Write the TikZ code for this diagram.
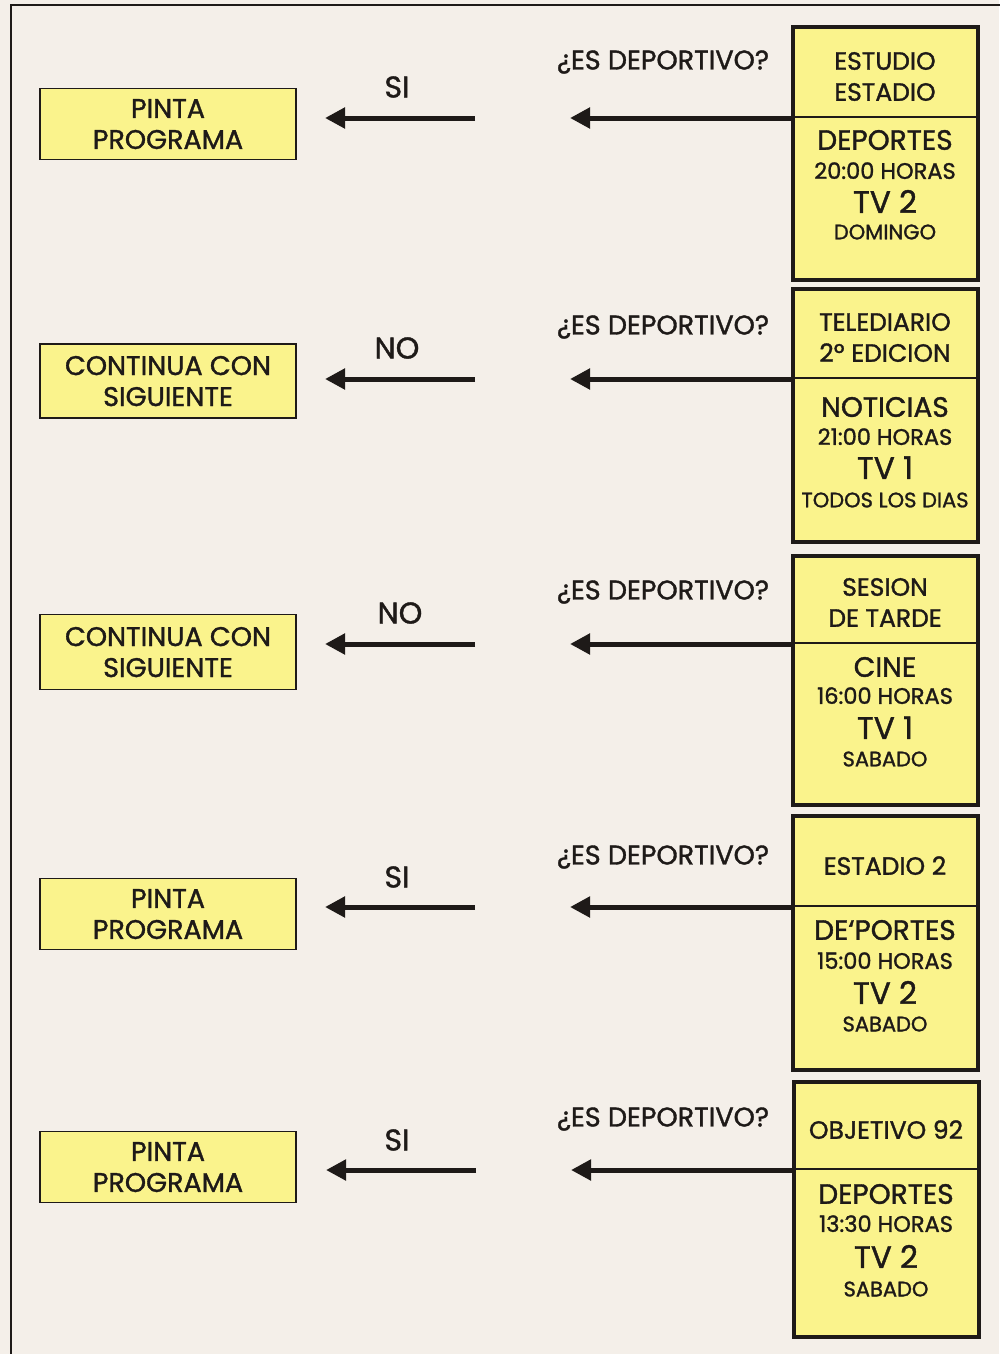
\documentclass[tikz,border=0pt]{standalone}
\usepackage{fontspec}
\setmainfont{Poppins}[FakeBold=1.3]
\usetikzlibrary{arrows.meta}
\definecolor{bgc}{RGB}{244,239,233}
\definecolor{boxy}{RGB}{250,243,140}
\definecolor{ink}{RGB}{30,26,24}
\tikzset{
  lbox/.style={draw=ink, line width=1.5, fill=boxy, minimum width=256, minimum height=71, inner sep=0, align=center, text=ink, font=\fontsize{27}{31}\selectfont, text depth=0pt},
  rpart/.style={fill=boxy, draw=ink, line width=2, minimum width=183, inner sep=0, anchor=north west},
  rframe/.style={draw=ink, line width=4.5},
  txt/.style={inner sep=0, text=ink, text depth=0pt},
  fq/.style={txt, font=\fontsize{27}{30}\selectfont, text height=18.9pt},
  fyn/.style={txt, font=\fontsize{30}{33}\selectfont, text height=21pt},
  ftitle/.style={txt, font=\fontsize{25}{28}\selectfont, text height=17.5pt},
  fgenre/.style={txt, font=\fontsize{28}{31}\selectfont, text height=19.6pt},
  fhour/.style={txt, font=\fontsize{22.5}{25}\selectfont, text height=15.75pt},
  ftv/.style={txt, font=\fontsize{31}{34}\selectfont, text height=21.7pt},
  fday/.style={txt, font=\fontsize{21}{24}\selectfont, text height=14.7pt},
  fsmall/.style={txt, font=\fontsize{21}{24}\selectfont, text height=14.7pt},
  arr/.style={draw=ink, line width=5, -{Triangle[length=20, width=20]}},
}
\begin{document}
\begin{tikzpicture}[x=1pt,y=-1pt]
\useasboundingbox (0,0) rectangle (999,1354);
\fill[bgc] (0,0) rectangle (999,1354);
\draw[ink, line width=2] (11,1360) -- (11,5) -- (1005,5);

% ---------- Right boxes ----------
% row 1
\node[rpart, minimum height=89] (t1) at (793,27) {};
\node[rpart, minimum height=162] (b1) at (793,116) {};
\draw[rframe] (t1.north west) rectangle (b1.south east);
% row 2
\node[rpart, minimum height=88] (t2) at (793,289) {};
\node[rpart, minimum height=163] (b2) at (793,377) {};
\draw[rframe] (t2.north west) rectangle (b2.south east);
% row 3
\node[rpart, minimum height=86] (t3) at (793,556) {};
\node[rpart, minimum height=161] (b3) at (793,642) {};
\draw[rframe] (t3.north west) rectangle (b3.south east);
% row 4
\node[rpart, minimum height=89] (t4) at (793,816) {};
\node[rpart, minimum height=163] (b4) at (793,905) {};
\draw[rframe] (t4.north west) rectangle (b4.south east);
% row 5
\node[rpart, minimum height=86] (t5) at (794,1082) {};
\node[rpart, minimum height=167] (b5) at (794,1168) {};
\draw[rframe] (t5.north west) rectangle (b5.south east);

% box texts
\node[ftitle] (r1a) at (885,61) {ESTUDIO};
\node[ftitle] (r1b) at (885,92) {ESTADIO};
\node[fgenre] (r1c) at (885,140) {DEPORTES};
\node[fhour] (r1d) at (885,171) {20:00 HORAS};
\node[ftv] (r1e) at (885,202) {TV 2};
\node[fday] (r1f) at (885,232) {DOMINGO};

\node[ftitle] (r2a) at (885,322) {TELEDIARIO};
\node[ftitle] (r2b) at (885,353) {2º EDICION};
\node[fgenre] (r2c) at (885,407) {NOTICIAS};
\node[fhour] (r2d) at (885,437) {21:00 HORAS};
\node[ftv] (r2e) at (885,468) {TV 1};
\node[fsmall] (r2f) at (885,500) {TODOS LOS DIAS};

\node[ftitle] (r3a) at (885,587) {SESION};
\node[ftitle] (r3b) at (885,618) {DE TARDE};
\node[fgenre] (r3c) at (885,667) {CINE};
\node[fhour] (r3d) at (885,696) {16:00 HORAS};
\node[ftv] (r3e) at (885,728) {TV 1};
\node[fday] (r3f) at (885,759) {SABADO};

\node[ftitle] (r4a) at (885,866) {ESTADIO 2};
\node[fgenre] (r4c) at (885,930) {DE‘PORTES};
\node[fhour] (r4d) at (885,961) {15:00 HORAS};
\node[ftv] (r4e) at (885,993) {TV 2};
\node[fday] (r4f) at (885,1024) {SABADO};

\node[ftitle] (r5a) at (886,1130) {OBJETIVO 92};
\node[fgenre] (r5c) at (886,1194) {DEPORTES};
\node[fhour] (r5d) at (886,1224) {13:30 HORAS};
\node[ftv] (r5e) at (886,1257) {TV 2};
\node[fday] (r5f) at (886,1289) {SABADO};

% ---------- Left boxes ----------
\node[lbox] (l1) at (168,124) {PINTA\\PROGRAMA};
\node[lbox, minimum height=74] (l2) at (168,381) {CONTINUA CON\\SIGUIENTE};
\node[lbox, minimum height=75] (l3) at (168,652) {CONTINUA CON\\SIGUIENTE};
\node[lbox] (l4) at (168,914) {PINTA\\PROGRAMA};
\node[lbox] (l5) at (168,1167) {PINTA\\PROGRAMA};

% ---------- Questions and answers ----------
\node[fq] (q1) at (663,60) {¿ES DEPORTIVO?};
\node[fq] (q2) at (663,325) {¿ES DEPORTIVO?};
\node[fq] (q3) at (663,590) {¿ES DEPORTIVO?};
\node[fq] (q4) at (663,855) {¿ES DEPORTIVO?};
\node[fq] (q5) at (663,1117) {¿ES DEPORTIVO?};

\node[fyn] (a1) at (397,87) {SI};
\node[fyn] (a2) at (397,348) {NO};
\node[fyn] (a3) at (400,613) {NO};
\node[fyn] (a4) at (397,877) {SI};
\node[fyn] (a5) at (397,1140) {SI};

% ---------- Arrows ----------
\foreach \i in {1,...,5}{
  \coordinate (qt\i) at ([xshift=-223pt]t\i.south west);
  \coordinate (ls\i) at ([xshift=-318pt]t\i.south west);
  \coordinate (lt\i) at ([xshift=-468pt]t\i.south west);
}
\foreach \i in {1,...,5}{
  \draw[arr] (t\i.south west) -- (qt\i);
  \draw[arr] (ls\i) -- (lt\i);
}
\end{tikzpicture}
\end{document}
